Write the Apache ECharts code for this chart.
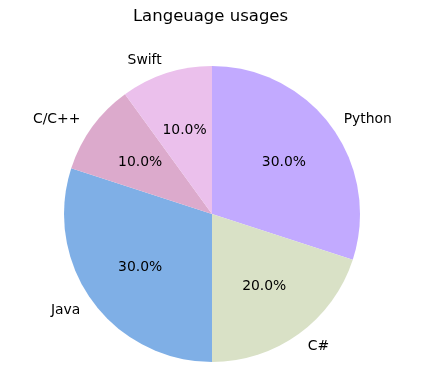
<!DOCTYPE html>
<html><head><meta charset="utf-8">
<script src="https://cdn.jsdelivr.net/npm/echarts@6/dist/echarts.min.js"></script>
<style>html,body{margin:0;padding:0;background:#fff}#c{width:421px;height:380px}</style>
</head><body><div id="c"></div>
<script>
const categories = ['Python', 'C#', 'Java', 'C/C++', 'Swift'];
const values = [30, 20, 30, 10, 10];
const colors = ['#c2aaff', '#d9e1c6', '#7fafe6', '#dcaacc', '#ebc0ec'];
const titleText = 'Langeuage usages';

const R = 148, CX = 212, CY = 214;
const font = 'DejaVu Sans';
const data = categories.map((c, i) => ({ name: c, value: values[i], itemStyle: { color: colors[i] } }));
const transparent = categories.map((c, i) => ({ name: c, value: values[i], itemStyle: { color: 'rgba(0,0,0,0)' } }));

const chart = echarts.init(document.getElementById('c'), null, { renderer: 'canvas' });
chart.setOption({
  animation: false,
  backgroundColor: '#fff',
  title: { text: titleText, left: 'center', top: 3, textStyle: { fontFamily: font, fontSize: 16.5, fontWeight: 'normal', color: '#000' } },
  series: [
    { type: 'pie', center: [CX, CY], radius: [0, R], startAngle: 90, clockwise: true, silent: true,
      label: { show: false }, labelLine: { show: false }, data: data, emphasis: { disabled: true } },
    { type: 'pie', center: [CX, CY + 1], radius: [0, R * 1.16], startAngle: 90, clockwise: true, silent: true,
      avoidLabelOverlap: false,
      label: { show: true, position: 'inside', fontFamily: font, fontSize: 13.9, color: '#000',
        formatter: p => p.percent.toFixed(1) + '%' },
      labelLine: { show: false }, data: transparent, emphasis: { disabled: true } },
    { type: 'pie', center: [CX, CY + 1], radius: [0, R], startAngle: 90, clockwise: true, silent: true,
      avoidLabelOverlap: false,
      label: { show: true, position: 'outside', distanceToLabelLine: 0, fontFamily: font, fontSize: 13.9, color: '#000', formatter: '{b}' },
      labelLine: { show: false, length: R * 0.1, length2: 0 }, data: transparent, emphasis: { disabled: true } }
  ]
});
</script></body></html>
